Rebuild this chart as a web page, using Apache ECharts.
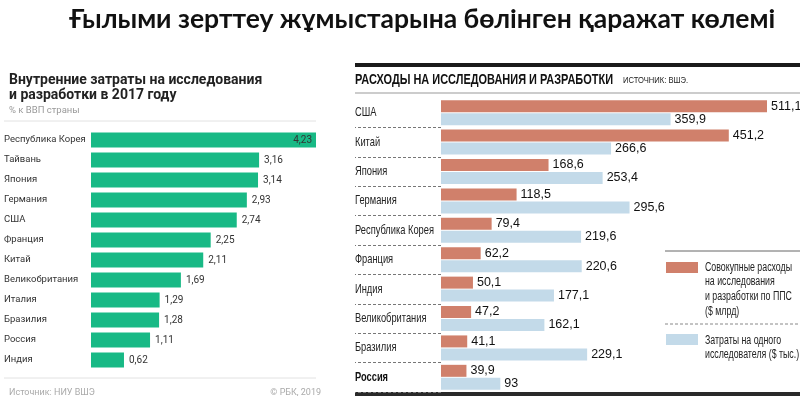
<!DOCTYPE html>
<html>
<head>
<meta charset="utf-8">
<script src="https://cdn.jsdelivr.net/npm/echarts@6/dist/echarts.min.js"></script>
<style>
  html, body { margin: 0; padding: 0; background: #fff; }
  #main { width: 800px; height: 396px; }
</style>
</head>
<body>
<div id="main"></div>
<script>
// левый график: % к ВВП
var gdpCountries = ['Республика Корея', 'Тайвань', 'Япония', 'Германия', 'США', 'Франция', 'Китай', 'Великобритания', 'Италия', 'Бразилия', 'Россия', 'Индия'];
var gdpShare = [4.23, 3.16, 3.14, 2.93, 2.74, 2.25, 2.11, 1.69, 1.29, 1.28, 1.11, 0.62];

// правый график: расходы
var rdCountries = ['США', 'Китай', 'Япония', 'Германия', 'Республика Корея', 'Франция', 'Индия', 'Великобритания', 'Бразилия', 'Россия'];
var rdTotal = [511.1, 451.2, 168.6, 118.5, 79.4, 62.2, 50.1, 47.2, 41.1, 39.9];
var rdPerResearcher = [359.9, 266.6, 253.4, 295.6, 219.6, 220.6, 177.1, 162.1, 229.1, 93];

var comma = function (p) { return String(p.value).replace('.', ','); };

// узкого шрифта нет - сжимаем обычный по ширине
var ctx = document.createElement('canvas').getContext('2d');
function squeeze(text, font, width) {
    ctx.font = font;
    return width / ctx.measureText(text).width;
}
var titleFont = "bold 15px 'Liberation Sans', sans-serif";
var titleScale = squeeze('РАСХОДЫ НА ИССЛЕДОВАНИЯ И РАЗРАБОТКИ', titleFont, 258);
var srcFont = "9px 'Liberation Sans', sans-serif";
var srcScale = squeeze('ИСТОЧНИК: ВШЭ.', srcFont, 65);
var legFont = "12.5px 'Liberation Sans', sans-serif";
var legScale = squeeze('Совокупные расходы', legFont, 87);
var catFont = "13px 'Liberation Sans', sans-serif";
var catScale = squeeze('Республика Корея', catFont, 79);

var chart = echarts.init(document.getElementById('main'));

var option = {
    backgroundColor: '#fff',
    animation: false,
    title: [{
        text: 'Ғылыми зерттеу жұмыстарына бөлінген қаражат көлемі',
        left: 417, top: 1, textAlign: 'center',
        textStyle: { fontFamily: 'Lato', fontWeight: 'bold', fontSize: 26.5, color: '#111' }
    }, {
        text: 'Внутренние затраты на исследования\nи разработки в 2017 году',
        left: 4, top: 68,
        textStyle: { fontFamily: 'Roboto', fontWeight: 'bold', fontSize: 14, lineHeight: 15, color: '#222' }
    }, {
        text: '% к ВВП страны',
        left: 4, top: 101,
        textStyle: { fontFamily: 'Roboto', fontWeight: 'normal', fontSize: 9.5, color: '#9a9a9a' }
    }, {
        text: 'Источник: НИУ ВШЭ',
        left: 4, top: 383,
        textStyle: { fontFamily: 'Roboto', fontWeight: 'normal', fontSize: 9, color: '#aaa' }
    }, {
        text: '© РБК, 2019',
        left: 316, top: 383, textAlign: 'right',
        textStyle: { fontFamily: 'Roboto', fontWeight: 'normal', fontSize: 9, color: '#aaa' }
    }],
    grid: [
        { left: 91, top: 130, width: 225, height: 240 },
        { left: 441, top: 98, width: 326, height: 294 }
    ],
    xAxis: [
        { gridIndex: 0, type: 'value', min: 0, max: 4.23, show: false, splitLine: { show: false } },
        { gridIndex: 1, type: 'value', min: 0, max: 511.1, show: false, splitLine: { show: false } }
    ],
    yAxis: [{
        gridIndex: 0, type: 'category', inverse: true, data: gdpCountries,
        axisLine: { show: false }, axisTick: { show: false },
        axisLabel: { align: 'left', margin: 87, fontFamily: 'Roboto', fontSize: 9.5, color: '#333' }
    }, {
        gridIndex: 1, type: 'category', inverse: true, data: rdCountries,
        axisLine: { show: false },
        axisTick: { show: true, length: 86, lineStyle: { type: [3, 2], color: '#777', width: 1 },
            interval: function (i) { return i > 0; } },
        axisLabel: { show: false }
    }],
    series: [{
        type: 'bar', xAxisIndex: 0, yAxisIndex: 0, barWidth: 15,
        data: gdpShare.map(function (v, i) {
            return i === 0 ? { value: v, label: { position: 'insideRight', distance: 4 } } : v;
        }),
        itemStyle: { color: '#18b985' },
        label: { show: true, position: 'right', distance: 5, formatter: comma,
            fontFamily: 'Roboto', fontSize: 10, color: '#333' }
    }, {
        name: 'Совокупные расходы', type: 'bar', xAxisIndex: 1, yAxisIndex: 1,
        barWidth: 12, barGap: '8%', data: rdTotal,
        itemStyle: { color: '#d0806b' },
        label: { show: true, position: 'right', distance: 4, formatter: comma,
            fontFamily: 'Liberation Sans', fontSize: 12.5, color: '#111' }
    }, {
        name: 'Затраты на одного исследователя', type: 'bar', xAxisIndex: 1, yAxisIndex: 1,
        barWidth: 12, barGap: '8%', data: rdPerResearcher,
        itemStyle: { color: '#c3dae9' },
        label: { show: true, position: 'right', distance: 4, formatter: comma,
            fontFamily: 'Liberation Sans', fontSize: 12.5, color: '#111' }
    }, {
        // подписи стран справа (сжатый шрифт)
        type: 'custom', xAxisIndex: 1, yAxisIndex: 1, silent: true,
        data: rdCountries.map(function (c, i) { return [0, i]; }),
        encode: { x: 0, y: 1 },
        renderItem: function (params, api) {
            var p = api.coord([0, api.value(1)]);
            var name = rdCountries[params.dataIndex];
            var bold = name === 'Россия';
            return {
                type: 'text', x: p[0] - 86, y: p[1], scaleX: catScale,
                style: {
                    text: name,
                    font: (bold ? 'bold ' : '') + catFont,
                    fill: bold ? '#111' : '#222',
                    align: 'left', verticalAlign: 'middle'
                }
            };
        }
    }],
    graphic: [
        // линии левого блока
        { type: 'line', shape: { x1: 4, y1: 121, x2: 316, y2: 121 }, style: { stroke: '#e2e2e2', lineWidth: 1 } },
        { type: 'line', shape: { x1: 4, y1: 378, x2: 316, y2: 378 }, style: { stroke: '#e2e2e2', lineWidth: 1 } },
        // правый блок
        { type: 'line', shape: { x1: 355, y1: 65, x2: 800, y2: 65 }, style: { stroke: '#1a1a1a', lineWidth: 4 } },
        { type: 'text', x: 355, y: 80, scaleX: titleScale,
            style: { text: 'РАСХОДЫ НА ИССЛЕДОВАНИЯ И РАЗРАБОТКИ', font: titleFont, fill: '#111', verticalAlign: 'middle' } },
        { type: 'text', x: 623, y: 81, scaleX: srcScale,
            style: { text: 'ИСТОЧНИК: ВШЭ.', font: srcFont, fill: '#222', verticalAlign: 'middle' } },
        { type: 'line', shape: { x1: 355, y1: 93, x2: 800, y2: 93 }, style: { stroke: '#999', lineWidth: 1 } },
        { type: 'line', shape: { x1: 355, y1: 394, x2: 800, y2: 394 }, style: { stroke: '#2a2a2a', lineWidth: 4 } },
        // легенда
        { type: 'line', shape: { x1: 665, y1: 251, x2: 800, y2: 251 }, style: { stroke: '#666', lineWidth: 1 } },
        { type: 'rect', shape: { x: 666, y: 262, width: 32, height: 11 }, style: { fill: '#d0806b' } },
        { type: 'text', x: 705, y: 260, scaleX: legScale, style: {
            text: 'Совокупные расходы\nна исследования\nи разработки по ППС\n($ млрд)',
            font: legFont, lineHeight: 14.6, fill: '#222', verticalAlign: 'top' } },
        { type: 'line', shape: { x1: 665, y1: 324, x2: 800, y2: 324 }, style: { stroke: '#888', lineWidth: 1, lineDash: [3, 2] } },
        { type: 'rect', shape: { x: 666, y: 334, width: 32, height: 11 }, style: { fill: '#c3dae9' } },
        { type: 'text', x: 705, y: 333, scaleX: legScale, style: {
            text: 'Затраты на одного\nисследователя ($ тыс.)',
            font: legFont, lineHeight: 14.6, fill: '#222', verticalAlign: 'top' } }
    ]
};
chart.setOption(option);
</script>
</body>
</html>
